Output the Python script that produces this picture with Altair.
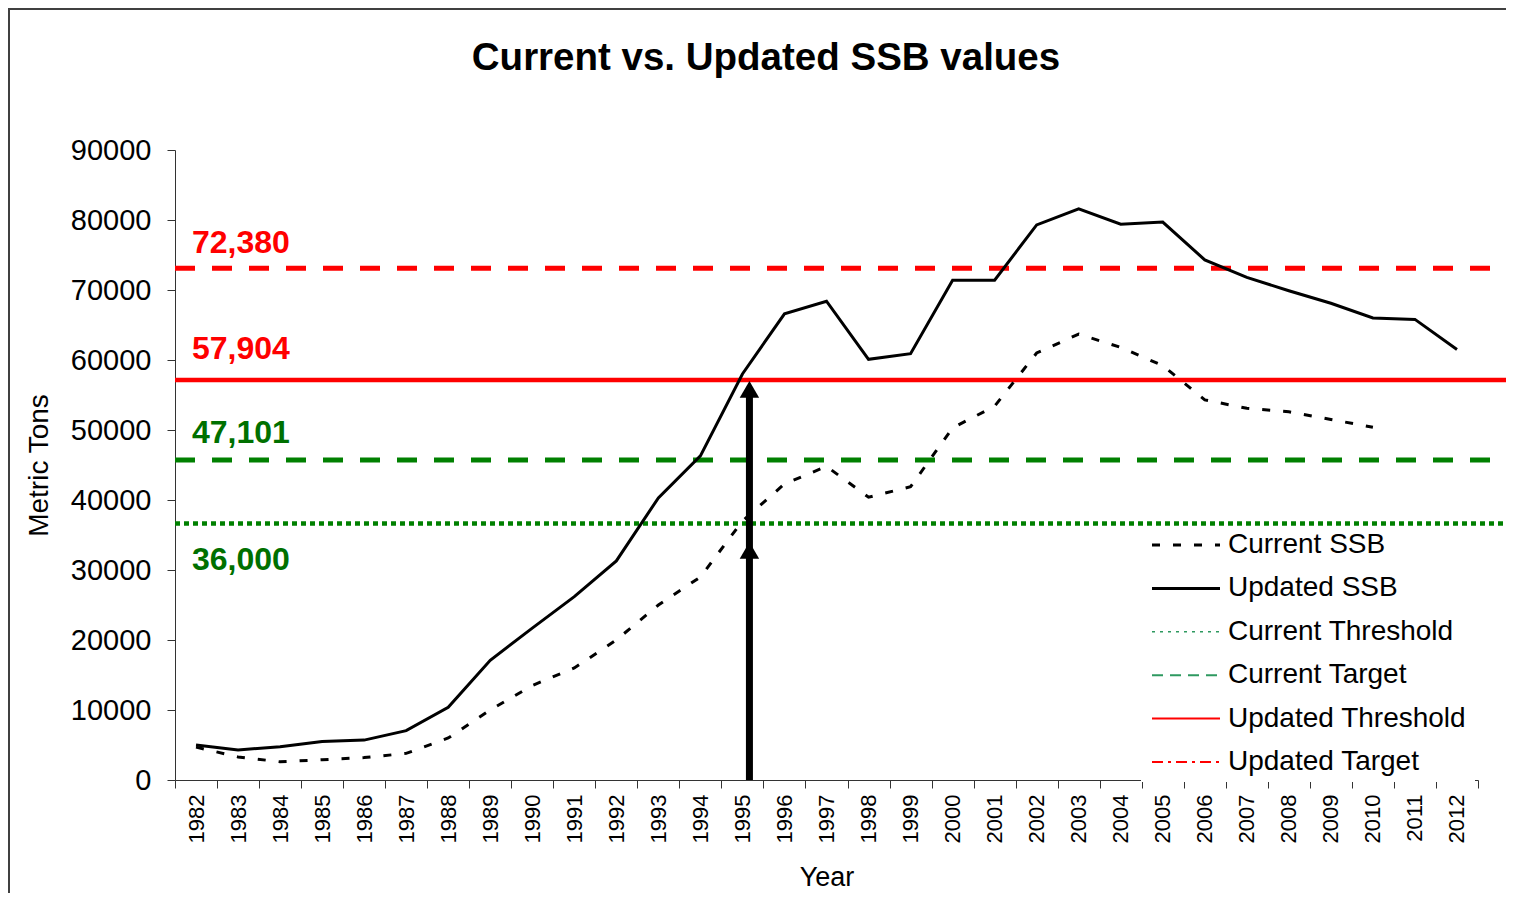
import altair as alt
import pandas as pd

# ---------------- data ----------------
years = [str(y) for y in range(1982, 2013)]
updated_ssb = [5000, 4300, 4750, 5500, 5700, 7050, 10400, 17100, 21700, 26200,
               31300, 40300, 46300, 58000, 66600, 68400, 60100, 60900, 71400, 71400,
               79300, 81600, 79400, 79700, 74300, 71800, 69900, 68100, 66000, 65800,
               61500]
current_ssb = [4700, 3300, 2600, 2900, 3200, 3800, 6000, 10000, 13500, 16000,
               20000, 25000, 29000, 37000, 42300, 44800, 40400, 41900, 50300, 53400,
               61000, 63700, 61800, 59200, 54300, 53100, 52600, 51500, 50400, None,
               None]

ref_labels = ["72,380", "57,904", "47,101", "36,000"]
ref_values = [73100, 57150, 45700, 36650]

arrow_year = ["1995"]
arrow_tips = [57000, 34000]

legend_names = ["Current SSB", "Updated SSB", "Current Threshold",
                "Current Target", "Updated Threshold", "Updated Target"]

title_text = ["Current vs. Updated SSB values"]

FONT = "Liberation Sans"
W, H = 1303, 630

df_upd = pd.DataFrame({"year": years, "value": updated_ssb})
df_cur = pd.DataFrame({"year": years, "value": current_ssb}).dropna()

xenc = alt.X("year:O", title="Year",
             scale=alt.Scale(type="band", paddingInner=0, paddingOuter=0, domain=years),
             axis=alt.Axis(labelAngle=-90, labelFontSize=22, tickBand="extent",
                           tickSize=8, labelPadding=6, titleFontSize=27,
                           titleFontWeight="normal", titlePadding=22,
                           domainColor="#333333", tickColor="#333333",
                           labelColor="black", titleColor="black"))
yenc = alt.Y("value:Q", title="Metric Tons",
             scale=alt.Scale(domain=[0, 90000], nice=False),
             axis=alt.Axis(values=list(range(0, 90001, 10000)), format="d",
                           labelFontSize=29, tickSize=8, labelPadding=16,
                           titleFontSize=28, titleFontWeight="normal",
                           titlePadding=17, grid=False,
                           domainColor="#333333", tickColor="#333333",
                           labelColor="black", titleColor="black"))

layers = []

# chart border (outside plot area)
border = alt.Chart(pd.DataFrame({"a": [0]})).mark_rect(
    fillOpacity=0, stroke="#404040", strokeWidth=2
).encode(x=alt.value(-166), x2=alt.value(1400), y=alt.value(-141), y2=alt.value(900))
layers.append(border)

# chart title
layers.append(alt.Chart(pd.DataFrame({"t": title_text})).mark_text(
    align="center", baseline="middle", fontSize=38.5, fontWeight="bold",
    font=FONT, color="black"
).encode(x=alt.value(591), y=alt.value(-92), text="t:N"))

# reference lines
ref_styles = [
    dict(color="#FF0000", strokeWidth=5, strokeDash=[20, 17]),
    dict(color="#FF0000", strokeWidth=4.5),
    dict(color="#008000", strokeWidth=5, strokeDash=[20, 17]),
    dict(color="#008000", strokeWidth=4.5, strokeDash=[5, 4]),
]
ref_dy = [-15, -21, -17, 47]
ref_text_colors = ["#FF0000", "#FF0000", "#007000", "#007000"]
for lab, val, st, dy, tc in zip(ref_labels, ref_values, ref_styles, ref_dy, ref_text_colors):
    d = pd.DataFrame({"value": [val], "label": [lab]})
    layers.append(alt.Chart(d).mark_rule(**st).encode(
        y=alt.Y("value:Q", scale=alt.Scale(domain=[0, 90000], nice=False)),
        x=alt.value(0), x2=alt.value(1400)))
    layers.append(alt.Chart(d).mark_text(
        align="left", baseline="alphabetic", fontSize=32, fontWeight="bold",
        font=FONT, color=tc, dy=dy
    ).encode(y=alt.Y("value:Q"), x=alt.value(17), text="label:N"))

# data lines
layers.append(alt.Chart(df_cur).mark_line(
    color="black", strokeWidth=3, strokeDash=[8, 13]).encode(x=xenc, y=yenc))
layers.append(alt.Chart(df_upd).mark_line(
    color="black", strokeWidth=3).encode(x=xenc, y=yenc))

# arrow
df_ar = pd.DataFrame({"year": arrow_year * 2, "value": arrow_tips})
df_ar_shaft = pd.DataFrame({"year": arrow_year, "value": [0], "value2": [max(arrow_tips) - 1500]})
layers.append(alt.Chart(df_ar_shaft).mark_rule(
    color="black", strokeWidth=7, xOffset=7).encode(
    x="year:O", y="value:Q", y2="value2:Q"))
layers.append(alt.Chart(df_ar).mark_point(
    shape="M0,0L-0.55,0.95L0.55,0.95Z", filled=True, opacity=1, color="black",
    size=1250, xOffset=7).encode(x="year:O", y="value:Q"))

# legend (white box + items)
layers.append(alt.Chart(pd.DataFrame({"a": [0]})).mark_rect(
    fill="white", stroke=None).encode(
    x=alt.value(966), x2=alt.value(1300), y=alt.value(381), y2=alt.value(632)))
leg_styles = [
    dict(color="black", strokeWidth=3, strokeDash=[8, 13]),
    dict(color="black", strokeWidth=3),
    dict(color="#2E9960", strokeWidth=1.5, strokeDash=[3, 5]),
    dict(color="#2E9960", strokeWidth=2, strokeDash=[11, 7]),
    dict(color="#FF0000", strokeWidth=2),
    dict(color="#FF0000", strokeWidth=2, strokeDash=[11, 5, 3, 5]),
]
for i, (name, st) in enumerate(zip(legend_names, leg_styles)):
    ypix = 395 + i * 43.4
    d = pd.DataFrame({"name": [name]})
    layers.append(alt.Chart(d).mark_rule(**st).encode(
        x=alt.value(977), x2=alt.value(1045), y=alt.value(ypix)))
    layers.append(alt.Chart(d).mark_text(
        align="left", baseline="middle", fontSize=28, font=FONT, color="black"
    ).encode(x=alt.value(1053), y=alt.value(ypix), text="name:N"))

chart = alt.layer(*layers).properties(
    width=W, height=H,
    autosize=alt.AutoSizeParams(type="none"),
    padding={"left": 167, "top": 142, "right": 28, "bottom": 113},
).configure(font=FONT).configure_view(stroke=None)

chart.save("out.html", embed_options={"renderer": "svg", "actions": False})
